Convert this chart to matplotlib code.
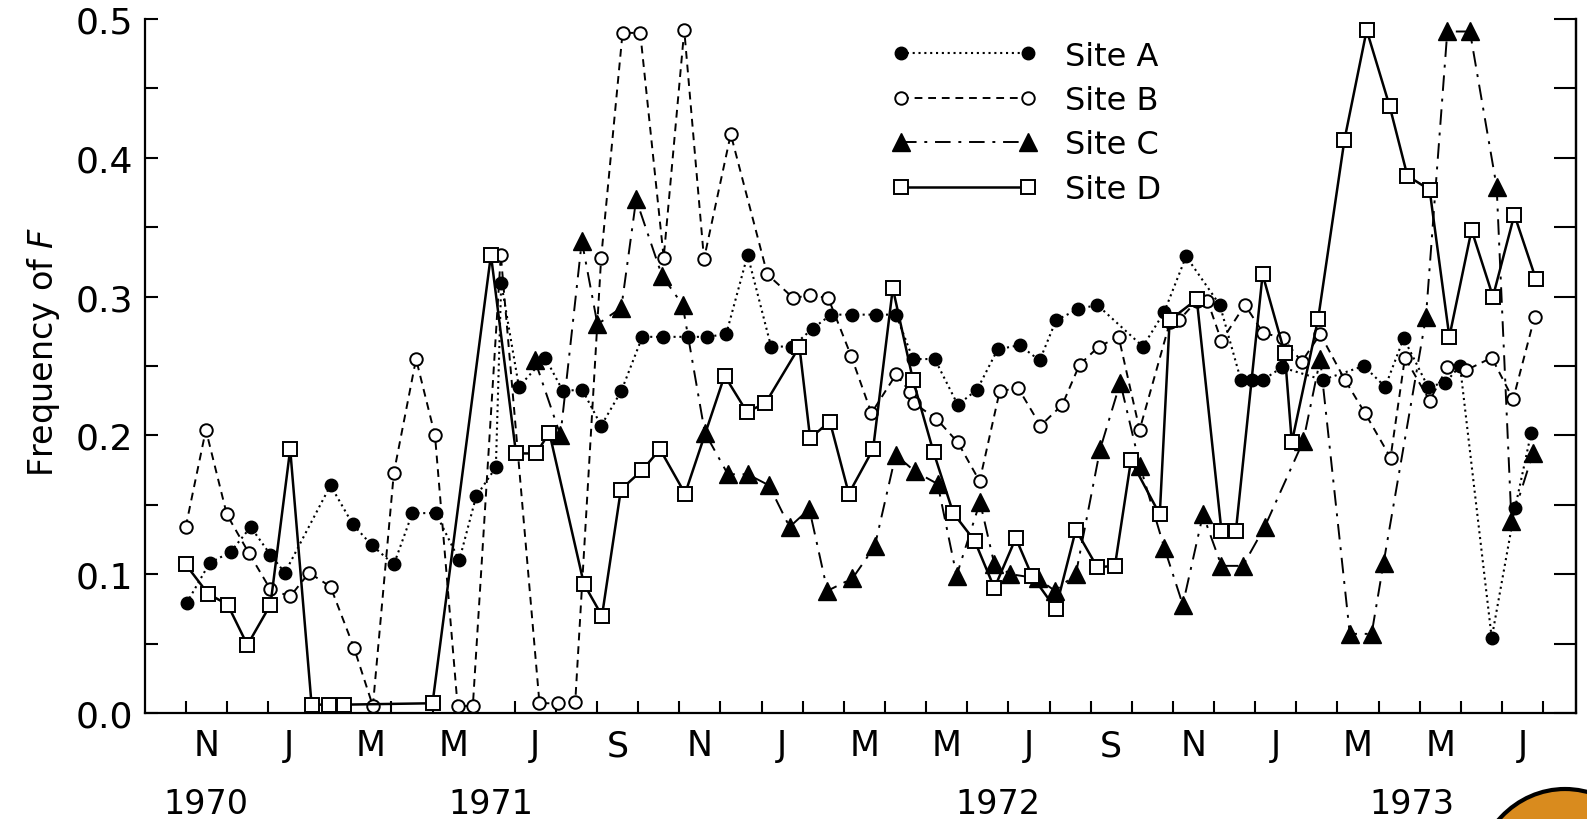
import numpy as np
import matplotlib.pyplot as plt
from matplotlib.patches import Ellipse

# x positions are in months counted from 1 Oct 1970 (1.0 = 1 Nov 1970)
site_a_x = [1.02, 1.58, 2.09, 2.58, 3.06, 3.41, 4.52, 5.06, 5.52, 6.06, 6.51, 7.08, 7.65, 8.06,
            8.54, 8.67, 9.10, 9.74, 10.17, 10.64, 11.10, 11.59, 12.10, 12.61, 13.21, 13.68, 14.14,
            14.66, 15.23, 15.75, 16.24, 16.69, 17.21, 17.79, 18.27, 18.68, 19.21, 19.77, 20.24,
            20.74, 21.27, 21.76, 22.16, 22.70, 23.16, 24.27, 24.79, 25.32, 26.14, 26.65, 26.92,
            27.19, 27.65, 28.64, 29.64, 30.16, 30.61, 31.20, 31.62, 31.98, 32.75, 33.32, 33.71]
site_a_y = [0.079, 0.108, 0.116, 0.134, 0.114, 0.101, 0.164, 0.136, 0.121, 0.107, 0.144, 0.144,
            0.110, 0.156, 0.177, 0.310, 0.235, 0.256, 0.232, 0.233, 0.207, 0.232, 0.271, 0.271,
            0.271, 0.271, 0.273, 0.330, 0.264, 0.264, 0.277, 0.287, 0.287, 0.287, 0.287, 0.255,
            0.255, 0.222, 0.233, 0.262, 0.265, 0.254, 0.283, 0.291, 0.294, 0.264, 0.289, 0.329,
            0.294, 0.240, 0.240, 0.240, 0.249, 0.240, 0.250, 0.235, 0.270, 0.235, 0.238, 0.250,
            0.054, 0.148, 0.202]

site_b_x = [1.00, 1.49, 2.00, 2.54, 3.06, 3.54, 4.00, 4.52, 5.09, 5.55, 6.06, 6.60, 7.06, 7.61,
            7.98, 8.66, 9.60, 10.05, 10.47, 11.10, 11.62, 12.05, 12.62, 13.12, 13.60, 14.25,
            15.14, 15.77, 16.17, 16.62, 17.18, 17.67, 18.27, 18.62, 18.71, 19.25, 19.77, 20.30,
            20.79, 21.24, 21.78, 22.31, 22.73, 23.20, 23.68, 24.19, 24.93, 25.15, 25.58, 25.84,
            26.18, 26.75, 27.19, 27.68, 28.13, 28.58, 29.18, 29.67, 30.29, 30.64, 31.24, 31.67,
            32.13, 32.75, 33.27, 33.79]
site_b_y = [0.134, 0.204, 0.143, 0.115, 0.089, 0.084, 0.101, 0.091, 0.047, 0.005, 0.173, 0.255,
            0.200, 0.005, 0.005, 0.330, 0.007, 0.007, 0.008, 0.328, 0.490, 0.490, 0.328, 0.492,
            0.327, 0.417, 0.316, 0.299, 0.301, 0.299, 0.257, 0.216, 0.244, 0.231, 0.223, 0.212,
            0.195, 0.167, 0.232, 0.234, 0.207, 0.222, 0.251, 0.264, 0.271, 0.204, 0.282, 0.283,
            0.297, 0.297, 0.268, 0.294, 0.274, 0.270, 0.253, 0.273, 0.240, 0.216, 0.184, 0.256,
            0.225, 0.249, 0.247, 0.256, 0.226, 0.285]

site_c_x = [9.49, 10.11, 10.63, 11.01, 11.59, 11.95, 12.58, 13.08, 13.62, 14.18, 14.66, 15.18,
            15.68, 16.16, 16.60, 17.21, 17.75, 18.26, 18.73, 19.28, 19.74, 20.31, 20.66, 21.05,
            21.71, 22.13, 22.64, 23.23, 23.72, 24.20, 24.79, 25.24, 25.73, 26.18, 26.70, 27.23,
            28.17, 28.58, 29.30, 29.83, 30.12, 31.15, 31.67, 32.22, 32.87, 33.23, 33.75]
site_c_y = [0.254, 0.200, 0.340, 0.280, 0.292, 0.370, 0.315, 0.294, 0.202, 0.172, 0.172, 0.164,
            0.134, 0.147, 0.088, 0.097, 0.120, 0.186, 0.174, 0.165, 0.099, 0.152, 0.107, 0.100,
            0.097, 0.088, 0.100, 0.190, 0.238, 0.178, 0.119, 0.078, 0.143, 0.106, 0.106, 0.134,
            0.196, 0.255, 0.057, 0.057, 0.108, 0.285, 0.491, 0.491, 0.379, 0.138, 0.187]

site_d_x = [1.00, 1.54, 2.02, 2.50, 3.06, 3.54, 4.06, 4.49, 4.84, 7.00, 8.42, 9.03, 9.52, 9.84,
            10.68, 11.12, 11.58, 12.10, 12.53, 13.14, 14.10, 14.64, 15.09, 15.92, 16.18, 16.66,
            17.12, 17.71, 18.19, 18.68, 19.18, 19.66, 20.18, 20.66, 21.18, 21.57, 22.15, 22.64,
            23.16, 23.59, 23.98, 24.68, 24.92, 25.58, 26.18, 26.53, 27.18, 27.72, 27.89, 28.53,
            29.17, 29.71, 30.27, 30.70, 31.24, 31.72, 32.26, 32.78, 33.30, 33.82]
site_d_y = [0.107, 0.086, 0.078, 0.049, 0.078, 0.190, 0.006, 0.006, 0.006, 0.007, 0.330, 0.187,
            0.187, 0.202, 0.093, 0.070, 0.161, 0.175, 0.190, 0.158, 0.243, 0.217, 0.223, 0.264,
            0.198, 0.210, 0.158, 0.190, 0.306, 0.240, 0.188, 0.144, 0.124, 0.090, 0.126, 0.099,
            0.075, 0.132, 0.105, 0.106, 0.182, 0.143, 0.283, 0.298, 0.131, 0.131, 0.316, 0.259,
            0.195, 0.284, 0.413, 0.492, 0.437, 0.387, 0.377, 0.271, 0.348, 0.300, 0.359, 0.313]

month_letters = ["N", "J", "M", "M", "J", "S", "N", "J", "M", "M", "J", "S", "N", "J", "M", "M", "J"]
years = ["1970", "1971", "1972", "1973"]
year_pos = [1.49, 8.42, 20.74, 30.81]

fig = plt.figure(figsize=(15.87, 8.2), dpi=100)
ax = fig.add_axes([0.0911, 0.1293, 0.9020, 0.8463])

ax.plot(site_a_x, site_a_y, color="black", ls=(0, (1, 1.8)), lw=1.5, marker="o", ms=9,
        mfc="black", mec="black", label="Site A", clip_on=False, zorder=3)
ax.plot(site_b_x, site_b_y, color="black", ls=(0, (4, 3)), lw=1.4, marker="o", ms=9,
        mfc="white", mec="black", mew=1.4, label="Site B", clip_on=False, zorder=4)
ax.plot(site_c_x, site_c_y, color="black", ls=(0, (8, 4, 1.5, 4)), lw=1.4, marker="^", ms=12.5,
        mfc="black", mec="black", label="Site C", clip_on=False, zorder=3)
ax.plot(site_d_x, site_d_y, color="black", ls="-", lw=1.8, marker="s", ms=10,
        mfc="white", mec="black", mew=1.4, label="Site D", clip_on=False, zorder=5)

ax.set_xlim(0, 34.8)
ax.set_ylim(0, 0.5)

# month boundaries as ticks, letters centred in every other month
ax.set_xticks(np.arange(1, 35))
ax.set_xticklabels([])
ax.set_xticks(np.arange(1.5, 34, 2), minor=True)
ax.set_xticklabels(month_letters, minor=True, fontsize=25)
ax.tick_params(axis="x", which="major", direction="in", length=9, width=1.5)
ax.tick_params(axis="x", which="minor", length=0, pad=11)

ax.set_yticks(np.arange(0, 0.51, 0.1))
ax.set_yticklabels(["%.1f" % v for v in np.arange(0, 0.51, 0.1)], fontsize=26)
ax.set_yticks(np.arange(0.05, 0.5, 0.1), minor=True)
ax.tick_params(axis="y", which="both", direction="in", length=9, width=1.5, pad=8)

ax.spines["top"].set_visible(False)
for s in ["left", "bottom", "right"]:
    ax.spines[s].set_linewidth(1.6)

# right-hand ticks every 0.05
ax2 = ax.twinx()
ax2.set_ylim(0, 0.5)
ax2.set_yticks(np.arange(0, 0.51, 0.05))
ax2.set_yticklabels([])
ax2.tick_params(axis="y", direction="in", length=16, width=1.5)
for s in ["top", "left", "bottom"]:
    ax2.spines[s].set_visible(False)
ax2.spines["right"].set_linewidth(1.6)

for yr, xp in zip(years, year_pos):
    ax.text(xp, -0.13, yr, transform=ax.get_xaxis_transform(), ha="center", va="center",
            fontsize=24)

ax.set_ylabel("Frequency of $F$", fontsize=24)
ax.yaxis.set_label_coords(-0.0575, 0.522)

ax.legend(loc="upper left", bbox_to_anchor=(0.5214, 0.969), frameon=False, fontsize=23,
          numpoints=2, handlelength=4.6, handletextpad=0.85, labelspacing=0.42,
          borderpad=0, borderaxespad=0)

# orange logo corner cut off by the bottom-right edge of the scan
fig.add_artist(Ellipse((1565 / 1587, -65 / 820), width=180 / 1587, height=190 / 820,
                       transform=fig.transFigure, fc="#d98b1e", ec="black", lw=3, clip_on=False))

fig.savefig("out.png", dpi=100)
